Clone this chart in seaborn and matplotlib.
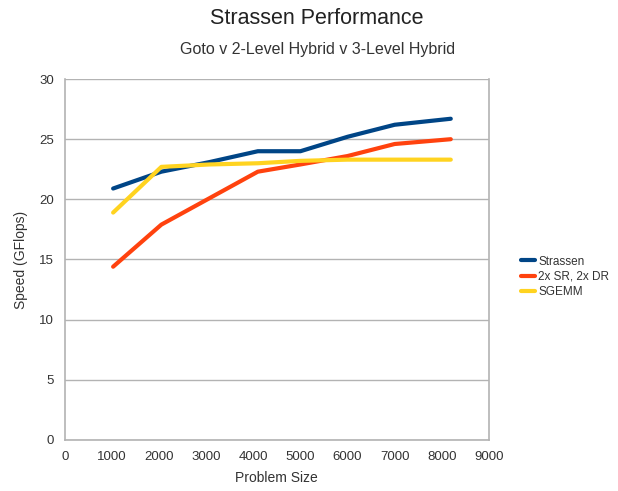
import matplotlib
matplotlib.use("Agg")
import matplotlib.pyplot as plt
import seaborn as sns
import pandas as pd

problem_size = [1024, 2048, 3072, 4096, 5000, 6000, 7000, 8192]
strassen = [20.9, 22.3, 23.1, 24.0, 24.0, 25.2, 26.2, 26.7]
hybrid_2x = [14.4, 17.9, 20.1, 22.3, 22.9, 23.6, 24.6, 25.0]
sgemm = [18.9, 22.7, 22.9, 23.0, 23.2, 23.3, 23.3, 23.3]
series_names = ["Strassen", "2x SR, 2x DR", "SGEMM"]
colors = ["#004586", "#ff420e", "#ffd320"]
x_ticks = list(range(0, 9001, 1000))
y_ticks = list(range(0, 31, 5))

rows = []
for name, vals in zip(series_names, [strassen, hybrid_2x, sgemm]):
    for x, v in zip(problem_size, vals):
        rows.append({"Problem Size": x, "Speed": v, "Series": name})
df = pd.DataFrame(rows)

sns.set_style("white")
plt.rcParams["font.family"] = ["Liberation Sans", "DejaVu Sans"]

fig = plt.figure(figsize=(6.18, 4.91), dpi=100)
ax = fig.add_axes([0.105, 0.104, 0.686, 0.735])

sns.lineplot(data=df, x="Problem Size", y="Speed", hue="Series",
             hue_order=series_names, palette=colors, linewidth=3.0,
             ax=ax, legend=True)

ax.set_xlim(0, 9000)
ax.set_ylim(0, 30)
ax.set_xticks(x_ticks)
ax.set_yticks(y_ticks)
ax.tick_params(axis="both", labelsize=9.5, colors="#b3b3b3", labelcolor="#333333",
               length=4, width=1, direction="out", pad=4)
ax.yaxis.grid(True, color="#b3b3b3", linewidth=1)
ax.set_axisbelow(True)
for side in ["left", "bottom", "right"]:
    ax.spines[side].set_color("#b3b3b3")
    ax.spines[side].set_linewidth(1.2)
ax.spines["top"].set_visible(False)

ax.set_xlabel("Problem Size", fontsize=10, color="#333333", labelpad=6)
ax.set_ylabel("Speed (GFlops)", fontsize=10, color="#333333", labelpad=8)

fig.text(0.512, 0.962, "Strassen Performance", ha="center", va="center",
         fontsize=15.5, color="#222222")
fig.text(0.514, 0.899, "Goto v 2-Level Hybrid v 3-Level Hybrid", ha="center",
         va="center", fontsize=11.5, color="#333333")

leg = ax.legend(loc="center left", bbox_to_anchor=(1.075, 0.452), frameon=False,
                fontsize=8.5, handlelength=1.2, handletextpad=0.3,
                labelspacing=0.28, borderaxespad=0, borderpad=0)
for line in leg.get_lines():
    line.set_linewidth(3)
for t in leg.get_texts():
    t.set_color("#333333")

fig.savefig("out.png", dpi=100)
